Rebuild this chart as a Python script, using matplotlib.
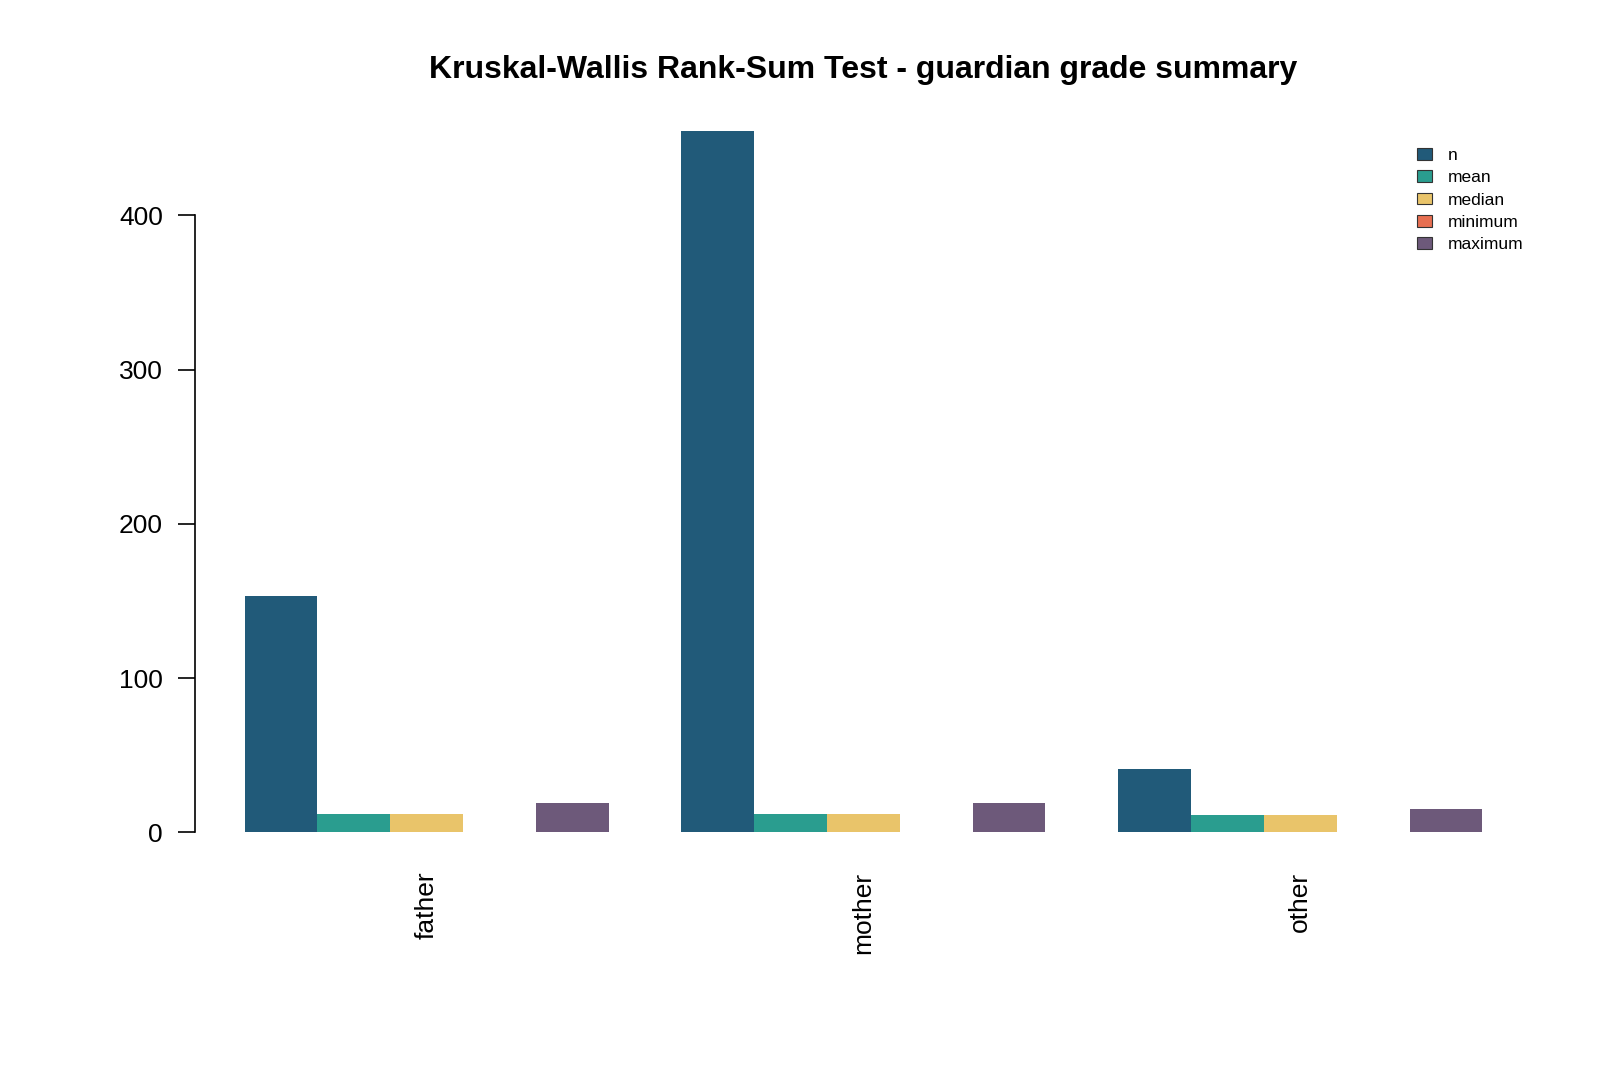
import numpy as np
import matplotlib
matplotlib.use("Agg")
import matplotlib.pyplot as plt
from matplotlib.patches import Patch

plt.rcParams['font.family'] = ['Liberation Sans', 'DejaVu Sans']

# data
groups = ["father", "mother", "other"]
stats = ["n", "mean", "median", "minimum", "maximum"]
n_vals = [153, 455, 41]
mean_vals = [12.1, 12.0, 11.2]
median_vals = [12, 12, 11]
min_vals = [0, 0, 0]
max_vals = [19, 19, 15]
colors = ["#215a79", "#2a9d8f", "#e9c46a", "#e76f51", "#6d597a"]

series = [n_vals, mean_vals, median_vals, min_vals, max_vals]

fig = plt.figure(figsize=(16, 10.67), dpi=100)
ax = fig.add_axes([0.1219, 0.1936, 0.8355, 0.7104])

# R-style beside barplot: width 1, space 0 within group, 1 between groups
for g in range(len(groups)):
    start = 1 + g * 6
    for s in range(len(stats)):
        ax.bar(start + s, series[s][g], width=1, align="edge",
               color=colors[s], edgecolor="none")

ymax = max(n_vals)
ax.set_xlim(0.32, 18.68)
ax.set_ylim(-0.04 * ymax, ymax * 1.04)

ax.set_yticks([0, 100, 200, 300, 400])
ax.spines["left"].set_bounds(0, 400)
ax.spines["left"].set_linewidth(1.2)
for side in ["top", "right", "bottom"]:
    ax.spines[side].set_visible(False)
ax.tick_params(axis="y", length=12, width=1.2, pad=11, labelsize=19)

centers = [1 + g * 6 + 2.5 for g in range(len(groups))]
ax.set_xticks(centers)
ax.set_xticklabels(groups, rotation=90, fontsize=19)
ax.tick_params(axis="x", length=0, pad=8)

fig.suptitle("Kruskal-Wallis Rank-Sum Test - guardian grade summary",
             x=0.5397, y=0.948, fontsize=23, fontweight="bold")

handles = [Patch(facecolor=c, edgecolor="#333333", linewidth=0.8) for c in colors]
fig.legend(handles, stats, loc="upper left",
           bbox_to_anchor=(1417 / 1600, 1 - 148 / 1067),
           frameon=False, fontsize=12.5, handlelength=0.86, handleheight=0.65,
           handletextpad=0.9, labelspacing=0.42, borderpad=0, borderaxespad=0)

fig.savefig("out.png", dpi=100)
